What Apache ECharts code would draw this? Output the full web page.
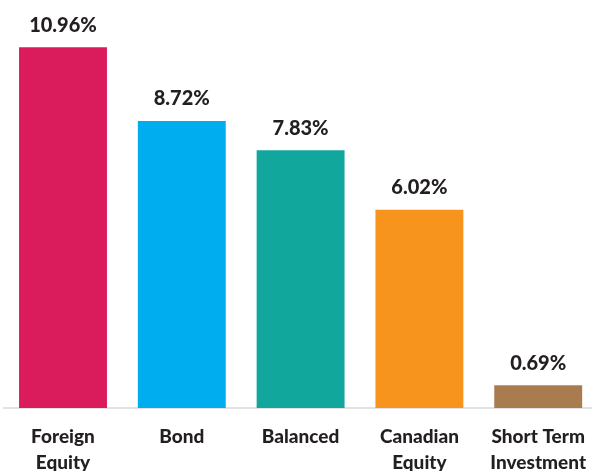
<!DOCTYPE html>
<html>
<head>
<meta charset="utf-8">
<script src="https://cdn.jsdelivr.net/npm/echarts@6/dist/echarts.min.js"></script>
<style>
  html, body { margin: 0; padding: 0; background: #fff; }
  #chart { width: 592px; height: 471px; }
</style>
</head>
<body>
<div id="chart"></div>
<script>
// Fund category returns
const categories = ['Foreign\nEquity', 'Bond', 'Balanced', 'Canadian\nEquity', 'Short Term\nInvestment'];
const returns = [10.96, 8.72, 7.83, 6.02, 0.69];
const barColors = ['#DA1C5C', '#00AEEF', '#12A79D', '#F7941D', '#A97C50'];

const chart = echarts.init(document.getElementById('chart'));
chart.setOption({
  animation: false,
  grid: { left: 3.6, width: 594, top: 13, bottom: 63, outerBoundsMode: 'none' },
  xAxis: {
    type: 'category',
    data: categories,
    axisLine: { show: true, lineStyle: { color: '#e2e2e2', width: 2 } },
    axisTick: { show: false },
    axisLabel: {
      margin: 16,
      interval: 0,
      color: '#231f20',
      fontFamily: 'Lato',
      fontWeight: 900,
      fontSize: 19,
      lineHeight: 26
    }
  },
  yAxis: {
    type: 'value',
    min: 0,
    max: 12,
    show: false,
    splitLine: { show: false }
  },
  series: [{
    type: 'bar',
    barCategoryGap: '26%',
    data: returns.map((v, i) => ({ value: v, itemStyle: { color: barColors[i] } })),
    label: {
      show: true,
      position: 'top',
      distance: 12,
      color: '#231f20',
      fontFamily: 'Lato',
      fontWeight: 900,
      fontSize: 20,
      formatter: p => p.value.toFixed(2) + '%'
    }
  }]
});
</script>
</body>
</html>
